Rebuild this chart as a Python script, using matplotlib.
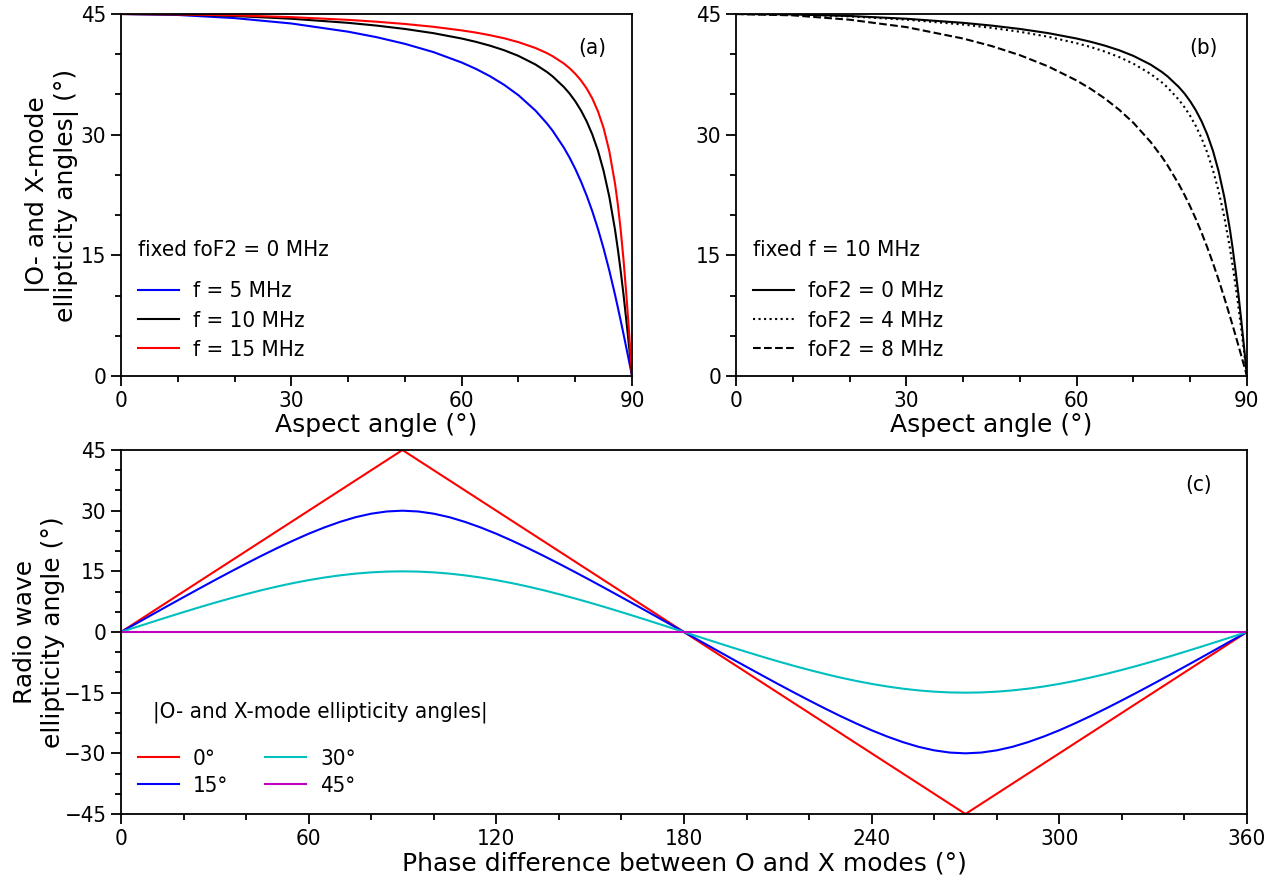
import numpy as np
import matplotlib
matplotlib.use("Agg")
import matplotlib.pyplot as plt
from matplotlib.ticker import MultipleLocator

# --- data ---
aspect = [0, 10, 20, 30, 40, 45, 50, 55, 60, 62.5, 65, 67.5, 70, 73, 75, 76, 78, 79,
          80, 81, 82, 83, 84, 85, 86, 87, 87.5, 88, 88.5, 89, 89.5, 90]

# panel (a): fixed foF2 = 0 MHz
f5 = [45.00, 44.88, 44.49, 43.82, 42.80, 42.12, 41.29, 40.27, 38.97, 38.18, 37.26,
      36.18, 34.90, 32.99, 31.40, 30.50, 28.38, 27.14, 25.75, 24.19, 22.44, 20.48,
      18.28, 15.82, 13.10, 10.11, 8.52, 6.89, 5.21, 3.49, 1.75, 0]
f10 = [45.00, 44.94, 44.75, 44.41, 43.90, 43.56, 43.14, 42.62, 41.95, 41.54, 41.06,
       40.49, 39.79, 38.72, 37.80, 37.25, 35.92, 35.11, 34.15, 33.02, 31.67, 30.03,
       28.01, 25.47, 22.27, 18.19, 15.76, 13.06, 10.10, 6.88, 3.49, 0]
f15 = [45.00, 44.96, 44.83, 44.61, 44.27, 44.04, 43.76, 43.41, 42.96, 42.69, 42.36,
       41.98, 41.50, 40.77, 40.14, 39.76, 38.84, 38.26, 37.57, 36.75, 35.75, 34.50,
       32.90, 30.80, 27.94, 23.93, 21.31, 18.17, 14.43, 10.09, 5.21, 0]

# panel (b): fixed f = 10 MHz
fo0 = f10
fo4 = [45.00, 44.93, 44.70, 44.30, 43.69, 43.28, 42.79, 42.17, 41.37, 40.89, 40.32,
       39.64, 38.82, 37.57, 36.50, 35.87, 34.34, 33.41, 32.33, 31.06, 29.57, 27.78,
       25.62, 23.00, 19.79, 15.87, 13.63, 11.19, 8.58, 5.82, 2.94, 0]
fo8 = [45.00, 44.83, 44.29, 43.37, 41.95, 41.02, 39.88, 38.48, 36.73, 35.68, 34.48,
       33.09, 31.47, 29.12, 27.25, 26.20, 23.84, 22.51, 21.07, 19.51, 17.82, 16.00,
       14.05, 11.97, 9.75, 7.42, 6.23, 5.01, 3.77, 2.52, 1.26, 0]

# panel (c): radio wave ellipticity vs phase difference
phase_lin = [0, 90, 180, 270, 360]
chi0 = [0, 45, 0, -45, 0]
chi45 = [0, 0, 0, 0, 0]
phase = list(range(0, 361, 5))
chi15 = [0, 2.16, 4.32, 6.48, 8.61, 10.73, 12.83, 14.89, 16.91, 18.88, 20.78, 22.59,
         24.30, 25.85, 27.23, 28.39, 29.26, 29.81, 30.00,
         29.81, 29.26, 28.39, 27.23, 25.85, 24.30, 22.59, 20.78, 18.88, 16.91, 14.89,
         12.83, 10.73, 8.61, 6.48, 4.32, 2.16, 0,
         -2.16, -4.32, -6.48, -8.61, -10.73, -12.83, -14.89, -16.91, -18.88, -20.78,
         -22.59, -24.30, -25.85, -27.23, -28.39, -29.26, -29.81, -30.00,
         -29.81, -29.26, -28.39, -27.23, -25.85, -24.30, -22.59, -20.78, -18.88,
         -16.91, -14.89, -12.83, -10.73, -8.61, -6.48, -4.32, -2.16, 0]
chi30 = [0, 1.25, 2.49, 3.72, 4.92, 6.10, 7.24, 8.33, 9.37, 10.35, 11.26, 12.09,
         12.83, 13.47, 14.01, 14.44, 14.75, 14.94, 15.00,
         14.94, 14.75, 14.44, 14.01, 13.47, 12.83, 12.09, 11.26, 10.35, 9.37, 8.33,
         7.24, 6.10, 4.92, 3.72, 2.49, 1.25, 0,
         -1.25, -2.49, -3.72, -4.92, -6.10, -7.24, -8.33, -9.37, -10.35, -11.26,
         -12.09, -12.83, -13.47, -14.01, -14.44, -14.75, -14.94, -15.00,
         -14.94, -14.75, -14.44, -14.01, -13.47, -12.83, -12.09, -11.26, -10.35,
         -9.37, -8.33, -7.24, -6.10, -4.92, -3.72, -2.49, -1.25, 0]

# small text in the condensed face, axis titles in the normal one
plt.rcParams['font.family'] = 'DejaVu Sans'
plt.rcParams['font.stretch'] = 'condensed'

TICK = 16
LEG = 16
LAB = 18
legkw = dict(frameon=False, fontsize=LEG, handlelength=1.85, handletextpad=0.63,
             borderaxespad=0)


def style(ax, xmaj, xmin, ymaj, ymin):
    ax.xaxis.set_major_locator(MultipleLocator(xmaj))
    ax.xaxis.set_minor_locator(MultipleLocator(xmin))
    ax.yaxis.set_major_locator(MultipleLocator(ymaj))
    ax.yaxis.set_minor_locator(MultipleLocator(ymin))
    ax.tick_params(which='both', direction='out', top=False, right=False,
                   labelsize=TICK, width=1.3)
    ax.tick_params(which='major', length=7)
    ax.tick_params(which='minor', length=4)
    for s in ax.spines.values():
        s.set_linewidth(1.3)


fig = plt.figure(figsize=(12.87, 8.80), dpi=100)
axa = fig.add_axes([0.0940, 0.5727, 0.3971, 0.4114])
axb = fig.add_axes([0.5719, 0.5727, 0.3970, 0.4114])
axc = fig.add_axes([0.0940, 0.0750, 0.8749, 0.4136])

lw = 1.5

# (a)
axa.plot(aspect, f5, color='#0000ff', lw=lw, label='f = 5 MHz')
axa.plot(aspect, f10, color='k', lw=lw, label='f = 10 MHz')
axa.plot(aspect, f15, color='#ff0000', lw=lw, label='f = 15 MHz')
axa.set_xlim(0, 90)
axa.set_ylim(0, 45)
style(axa, 30, 10, 15, 5)
axa.set_xlabel('Aspect angle (°)', fontsize=LAB, fontstretch='normal', labelpad=2)
axa.set_ylabel('|O- and X-mode\nellipticity angles| (°)', fontsize=LAB,
               fontstretch='normal')
axa.yaxis.set_label_coords(-0.082, 0.5)
axa.text(0.922, 0.905, '(a)', transform=axa.transAxes, fontsize=LEG, ha='center', va='center')
axa.text(0.033, 0.348, 'fixed foF2 = 0 MHz', transform=axa.transAxes, fontsize=LEG,
         ha='left', va='center')
axa.legend(loc='upper left', bbox_to_anchor=(0.0157, 0.286), labelspacing=0.42, **legkw)

# (b)
axb.plot(aspect, fo0, color='k', lw=lw, ls='-', label='foF2 = 0 MHz')
axb.plot(aspect, fo4, color='k', lw=lw, ls=':', label='foF2 = 4 MHz')
axb.plot(aspect, fo8, color='k', lw=lw, ls='--', label='foF2 = 8 MHz')
axb.set_xlim(0, 90)
axb.set_ylim(0, 45)
style(axb, 30, 10, 15, 5)
axb.set_xlabel('Aspect angle (°)', fontsize=LAB, fontstretch='normal', labelpad=2)
axb.text(0.914, 0.905, '(b)', transform=axb.transAxes, fontsize=LEG, ha='center', va='center')
axb.text(0.033, 0.348, 'fixed f = 10 MHz', transform=axb.transAxes, fontsize=LEG,
         ha='left', va='center')
axb.legend(loc='upper left', bbox_to_anchor=(0.0157, 0.286), labelspacing=0.42, **legkw)

# (c)
axc.plot(phase_lin, chi0, color='#ff0000', lw=lw, label='0°')
axc.plot(phase, chi15, color='#0000ff', lw=lw, label='15°')
axc.plot(phase, chi30, color='#00bfbf', lw=lw, label='30°')
axc.plot([0, 90, 180, 270, 360], chi45, color='#bf00bf', lw=lw, label='45°')
axc.set_xlim(0, 360)
axc.set_ylim(-45, 45)
style(axc, 60, 20, 15, 5)
axc.set_xlabel('Phase difference between O and X modes (°)', fontsize=LAB,
               fontstretch='normal', labelpad=2)
axc.set_ylabel('Radio wave\nellipticity angle (°)', fontsize=LAB, fontstretch='normal')
axc.yaxis.set_label_coords(-0.050, 0.5)
axc.text(0.957, 0.904, '(c)', transform=axc.transAxes, fontsize=LEG, ha='center', va='center')
axc.text(0.028, 0.28, '|O- and X-mode ellipticity angles|', transform=axc.transAxes,
         fontsize=LEG, ha='left', va='center')
axc.legend(loc='upper left', bbox_to_anchor=(0.0071, 0.2035), ncol=2, columnspacing=1.66,
           labelspacing=0.33, **legkw)

fig.savefig('out.png', dpi=100)
